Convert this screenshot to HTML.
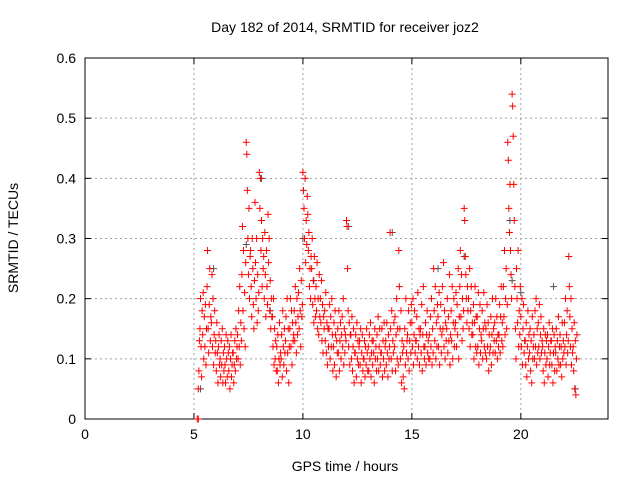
<!DOCTYPE html>
<html><head><meta charset="utf-8"><style>
body{margin:0;background:#fff;}
svg{display:block;font-family:"Liberation Sans",sans-serif;}
</style></head><body>
<svg id="chart" width="640" height="480">
<rect width="640" height="480" fill="#fff"/>
<g id="grid"></g>
<g id="axes"></g>
<g id="marks"></g>
<text x="345" y="32" text-anchor="middle" font-size="14">Day 182 of 2014, SRMTID for receiver joz2</text>
<text x="345" y="471" text-anchor="middle" font-size="14">GPS time / hours</text>
<text x="18" y="238" text-anchor="middle" font-size="14" transform="rotate(-90 18 238)">SRMTID / TECUs</text>
</svg>
<script>
const xTicks=[0,5,10,15,20];
const yTicks=[0,0.1,0.2,0.3,0.4,0.5,0.6];
const yTickLabels=["0","0.1","0.2","0.3","0.4","0.5","0.6"];
const binStarts=[5.2,5.4,5.6,5.8,6.0,6.2,6.4,6.6,6.8,7.0,7.2,7.4,7.6,7.8,8.0,8.2,8.4,8.6,8.8,9.0,9.2,9.4,9.6,9.8,10.0,10.2,10.4,10.6,10.8,11.0,11.2,11.4,11.6,11.8,12.0,12.2,12.4,12.6,12.8,13.0,13.2,13.4,13.6,13.8,14.0,14.2,14.4,14.6,14.8,15.0,15.2,15.4,15.6,15.8,16.0,16.2,16.4,16.6,16.8,17.0,17.2,17.4,17.6,17.8,18.0,18.2,18.4,18.6,18.8,19.0,19.2,19.4,19.6,19.8,20.0,20.2,20.4,20.6,20.8,21.0,21.2,21.4,21.6,21.8,22.0,22.2,22.4];
const binValues=[
"5 8 13 15 20 12 7 18","14 21 10 17 12 19 9 15","22 28 15 11 19 25 13 17","16 24 12 20 9 14 18 11",
"13 8 16 11 6 12 14 9","10 7 13 9 15 6 11 8","12 9 6 14 10 7 13 11","8 12 5 10 14 7 9 11",
"11 6 9 13 8 15 10 12","14 10 18 12 22 9 16 13","24 32 18 28 15 21 12 26","46 44 38 30 24 35 20 27",
"28 22 17 30 25 19 15 23","36 26 20 30 16 24 18 21","41 35 40 28 33 22 30 25","27 20 31 24 17 28 22 19",
"34 26 30 18 23 15 20 17","17 12 20 9 15 10 13 8","12 8 14 6 10 16 9 11","10 14 7 18 12 9 15 11",
"13 17 8 20 11 15 6 12","15 20 12 18 9 16 13 14","18 13 22 16 11 20 14 17","21 15 25 18 12 23 17 19",
"41 38 35 30 40 26 33 29","37 34 28 31 22 25 20 27","25 30 19 23 16 27 20 17","22 18 26 15 20 14 24 17",
"20 16 23 13 19 11 17 15","18 13 21 11 16 9 15 12","15 19 10 17 12 20 14 8","12 16 9 18 14 7 13 11",
"15 11 18 8 13 16 10 14","17 12 20 9 15 11 14 13","33 32 25 18 12 16 9 14","14 10 17 8 12 15 6 11",
"11 14 7 16 10 13 9 12","13 9 15 6 11 14 8 10","10 13 7 12 9 15 11 8","12 8 14 10 16 7 11 13",
"9 13 11 6 15 10 12 8","14 10 17 8 12 15 9 11","11 15 7 13 10 16 8 12","13 9 16 11 7 14 10 12",
"31 15 10 18 8 13 11 16","12 17 8 14 20 10 15 9","28 22 15 10 18 6 13 11","7 12 5 15 9 20 11 13",
"14 10 18 8 13 16 11 19","16 12 20 9 14 18 11 13","13 17 10 21 12 15 9 14","15 11 19 8 14 22 12 10",
"12 16 9 14 18 11 13 10","14 10 17 12 20 9 15 11","25 18 13 22 10 16 12 19","17 12 21 9 15 19 11 14",
"22 15 26 12 18 10 16 13","15 20 11 17 13 24 9 14","18 13 22 10 16 20 12 15","16 21 12 19 14 25 10 17",
"22 28 17 24 13 20 15 18","35 33 27 24 20 16 22 18","20 15 25 12 18 22 14 16","14 19 10 16 22 12 17 11",
"17 12 21 9 15 19 11 14","13 18 10 15 21 12 16 11","15 10 19 12 16 8 14 11","12 17 9 14 20 11 15 13",
"16 11 20 13 17 10 14 12","14 19 11 17 22 13 16 12","22 17 28 14 20 25 15 19","46 43 35 31 39 28 24 20",
"54 52 47 39 33 22 15 10","25 20 16 28 12 18 14 22","17 12 20 9 15 19 11 13","13 9 16 7 12 18 10 14",
"11 15 8 13 6 17 10 12","14 10 18 12 20 9 15 11","16 12 19 10 14 17 11 13","12 8 15 6 11 14 9 13",
"10 14 7 12 16 9 11 13","13 9 15 6 11 14 8 12","11 15 8 13 10 17 9 12","14 9 12 7 16 10 13 11",
"16 12 20 9 14 18 11 13","27 22 17 12 20 9 15 11","12 8 16 5 13 4 10 14"];
const grayTimes=[5.3,5.9,7.4,8.1,8.5,10.0,10.5,12.1,14.1,16.2,17.4,19.5,19.6,20.0,21.5,22.5];
const grayValues=[0.05,0.25,0.29,0.4,0.18,0.3,0.23,0.32,0.31,0.25,0.27,0.33,0.23,0.21,0.22,0.05];
const zeroTimes=[5.15,5.2];
const zeroValues=[0,0];

const L=85,R=608,T=58,B=419,XMAX=24,YMAX=0.6;
const sx=t=>L+(R-L)*t/XMAX;
const sy=v=>B-(B-T)*v/YMAX;
const NS="http://www.w3.org/2000/svg";
function mk(tag,attrs,parent){const e=document.createElementNS(NS,tag);for(const k in attrs)e.setAttribute(k,attrs[k]);parent.appendChild(e);return e;}
const grid=document.getElementById('grid'),axes=document.getElementById('axes'),marks=document.getElementById('marks');
yTicks.forEach((v,i)=>{
 const y=sy(v);
 if(i>0&&i<yTicks.length-1){const g=mk('line',{x1:L,x2:R,y1:y,y2:y,stroke:'#a0a0a0','stroke-dasharray':'2,3','stroke-width':1},grid);
 
 }
 const t=mk('line',{x1:L,x2:L+6,y1:y,y2:y,stroke:'#000'},axes);
 
 
 const t2=mk('line',{x1:R,x2:R-6,y1:y,y2:y,stroke:'#000'},axes);
 
 
 const lb=mk('text',{x:L-9,y:y+5,'text-anchor':'end','font-size':14},axes);
 lb.textContent=yTickLabels[i];
 
 
});
xTicks.forEach(v=>{
 const x=sx(v);
 if(v>0){const g=mk('line',{x1:x,x2:x,y1:T,y2:B,stroke:'#a0a0a0','stroke-dasharray':'2,3','stroke-width':1},grid);
 
 }
 const t=mk('line',{x1:x,x2:x,y1:B,y2:B-6,stroke:'#000'},axes);
 
 
 const t2=mk('line',{x1:x,x2:x,y1:T,y2:T+6,stroke:'#000'},axes);
 
 
 const lb=mk('text',{x:x,y:B+20,'text-anchor':'middle','font-size':14},axes);
 lb.textContent=String(v);
 
 
});
const frame=mk('rect',{x:L,y:T,width:R-L,height:B-T,fill:'none',stroke:'#000'},axes);


function cross(t,v,color,name){
 const x=sx(t),y=sy(v);
 const p=mk('path',{d:`M${x-3.5},${y}h7M${x},${y-3.5}v7`,stroke:color,'stroke-width':1,fill:'none'},marks);
 
 
}
grayTimes.forEach((t,i)=>cross(t,grayValues[i],'#555','gray-point'));
binStarts.forEach((s,i)=>{
 binValues[i].split(' ').map(Number).forEach((v,j)=>cross(s+j*0.025,v/100,'#ff0000','srmtid-point'));
});
zeroTimes.forEach((t,i)=>cross(t,zeroValues[i],'#ff0000','zero-point'));
</script>
</body></html>
